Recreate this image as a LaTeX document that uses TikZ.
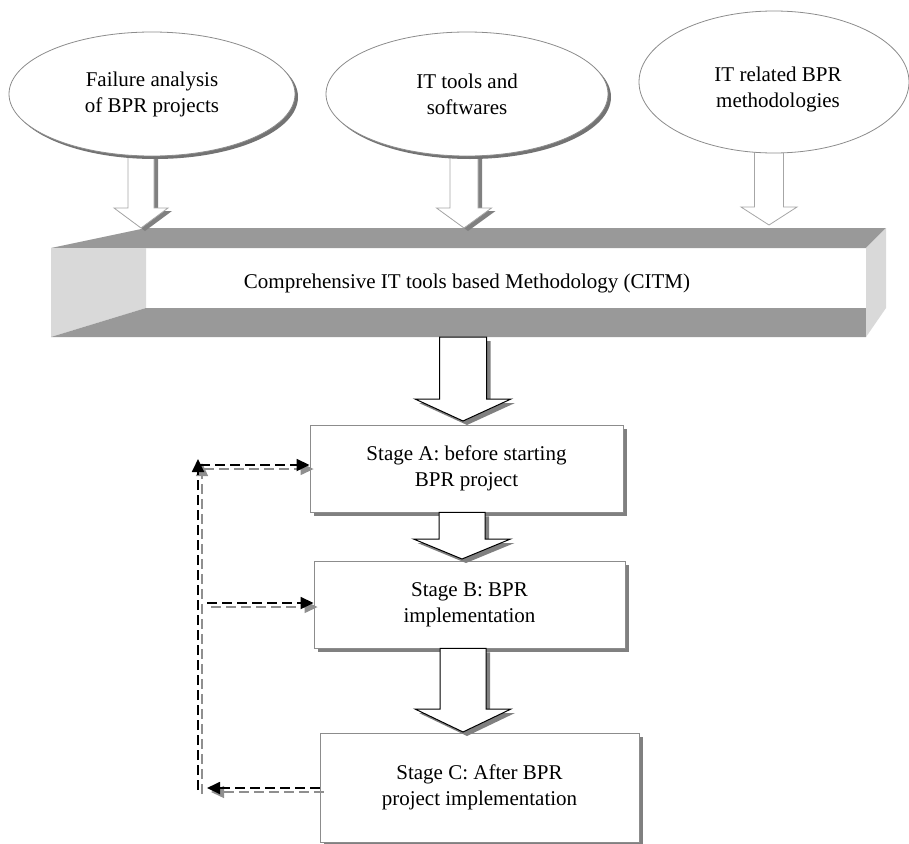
\documentclass[tikz,border=0pt]{standalone}
\usepackage{fontspec}
\setmainfont{Liberation Serif}
\usetikzlibrary{shapes.geometric,shadows,arrows.meta,calc}

\definecolor{edgegray}{HTML}{8C8C8C}
\definecolor{arrowgray}{HTML}{A6A6A6}
\definecolor{shd}{HTML}{808080}
\definecolor{bandgray}{HTML}{999999}
\definecolor{sidegray}{HTML}{D9D9D9}
\definecolor{dashshd}{HTML}{8F8F8F}

% Hollow block arrow: #1 options, #2 start (its y is used), #3 tip,
% #4 shaft half width, #5 head half width, #6 head length (all in pt)
\newcommand\hollowarrow[6]{%
  \path[#1] let \p1=(#2), \p2=(#3) in
    (\x2-#4pt,\y1) -- (\x2+#4pt,\y1) -- (\x2+#4pt,\y2+#6pt) -- (\x2+#5pt,\y2+#6pt)
    -- (\x2,\y2) -- (\x2-#5pt,\y2+#6pt) -- (\x2-#4pt,\y2+#6pt) -- cycle;}

\begin{document}
\begin{tikzpicture}[x=1pt,y=-1pt,
  lbl/.style={font=\fontsize{21}{26}\selectfont, align=center, text=black},
  oval/.style={ellipse, draw=edgegray, line width=0.8pt, fill=white, inner sep=0pt, lbl},
  ovalshadow/.style={general shadow={fill=black!55, shadow xshift=3pt, shadow yshift=-3pt}},
  stagebox/.style={rectangle, draw=edgegray, line width=0.9pt, fill=white, inner sep=0pt, lbl,
    general shadow={fill=shd, shadow xshift=4pt, shadow yshift=-4pt}},
  dashline/.style={black, line width=1.8pt, dash pattern=on 10pt off 5pt},
  dashshadow/.style={dashshd, line width=1.3pt, dash pattern=on 10pt off 5pt,
    transform canvas={xshift=4pt,yshift=-4pt}},
  tip/.style={-{Triangle[length=13pt,width=12pt]}},
  grayarrow/.style={fill=white, draw=arrowgray, line width=0.8pt},
  grayarrowshadow/.style={fill=shd, transform canvas={xshift=4pt,yshift=-3pt}},
  blackarrow/.style={fill=white, draw=black, line width=1pt},
  blackarrowshadow/.style={fill=shd, transform canvas={xshift=4pt,yshift=-4pt}}
]
\useasboundingbox (0,0) rectangle (909,843);

% ---- three-dimensional methodology bar ----
\fill[bandgray] (51,248) -- (146,228) -- (886,228) -- (866,248) -- cycle;
\fill[sidegray] (51,248) -- (146,248) -- (146,308) -- (51,337) -- cycle;
\fill[bandgray] (51,337) -- (146,308) -- (866,308) -- (866,337) -- cycle;
\fill[sidegray] (866,248) -- (886,228) -- (886,308) -- (866,337) -- cycle;
\node[lbl] (citm) at (467,283) {Comprehensive IT tools based Methodology (CITM)};
\coordinate (barS) at (463,337);

% ---- inputs: arrows into the bar ----
\coordinate (s1) at (141,150); \coordinate (t1) at (141,228);
\coordinate (s2) at (464,150); \coordinate (t2) at (464,228);
\coordinate (s3) at (769,148); \coordinate (t3) at (769,225);
\hollowarrow{grayarrowshadow}{s1}{t1}{13}{27}{20}
\hollowarrow{grayarrow}{s1}{t1}{13}{27}{20}
\hollowarrow{grayarrowshadow}{s2}{t2}{14}{27.5}{20}
\hollowarrow{grayarrow}{s2}{t2}{14}{27.5}{20}
\hollowarrow{grayarrow}{s3}{t3}{14.5}{28}{18}

% ---- input ellipses ----
\node[oval, ovalshadow, minimum width=286pt, minimum height=124pt] (e1) at (152,94)
  {Failure analysis\\of BPR projects};
\node[oval, ovalshadow, minimum width=282pt, minimum height=124pt] (e2) at (467,94)
  {IT tools and\\softwares};
\node[oval, minimum width=270pt, minimum height=142pt] (e3) at (774,82) {};
\node[lbl] (e3text) at (778,89) {IT related BPR\\methodologies};

% ---- stages ----
\node[stagebox, minimum width=313pt, minimum height=87pt] (A) at (466.5,468.5)
  {Stage A: before starting\\BPR project};
\node[stagebox, minimum width=311pt, minimum height=87pt] (B) at (469.5,604.5)
  {Stage B: BPR\\implementation};
\node[stagebox, minimum width=319pt, minimum height=109pt] (C) at (479.5,787.5)
  {Stage C: After BPR\\project implementation};

% ---- flow between bar and stages ----
\coordinate (tA) at (463,421);
\coordinate (tB) at (462,559);
\coordinate (tC) at (463,732);
\hollowarrow{blackarrowshadow}{barS}{tA}{23.5}{48}{22}
\hollowarrow{blackarrow}{barS}{tA}{23.5}{48}{22}
\hollowarrow{blackarrowshadow}{A.south}{tB}{23}{48.5}{20}
\hollowarrow{blackarrow}{A.south}{tB}{23}{48.5}{20}
\hollowarrow{blackarrowshadow}{B.south}{tC}{23}{48}{23}
\hollowarrow{blackarrow}{B.south}{tC}{23}{48}{23}

% ---- feedback loop ----
\coordinate (loopBot) at (198,790);
\coordinate (loopTop) at (198,459);
\coordinate (toA) at (200,465);
\coordinate (toB) at (207,603);
\coordinate (fromC) at (207,788);

\draw[dashshadow, tip] (loopBot) -- (loopTop);
\draw[dashshadow, tip] (toA) -- (toA -| A.west);
\draw[dashshadow, tip] (toB) -- (toB -| B.west);
\draw[dashshadow, tip] (fromC -| C.west) -- (fromC);

\draw[dashline, tip] (loopBot) -- (loopTop);
\draw[dashline, tip] (toA) -- (toA -| A.west);
\draw[dashline, tip] (toB) -- (toB -| B.west);
\draw[dashline, tip] (fromC -| C.west) -- (fromC);
\end{tikzpicture}
\end{document}
